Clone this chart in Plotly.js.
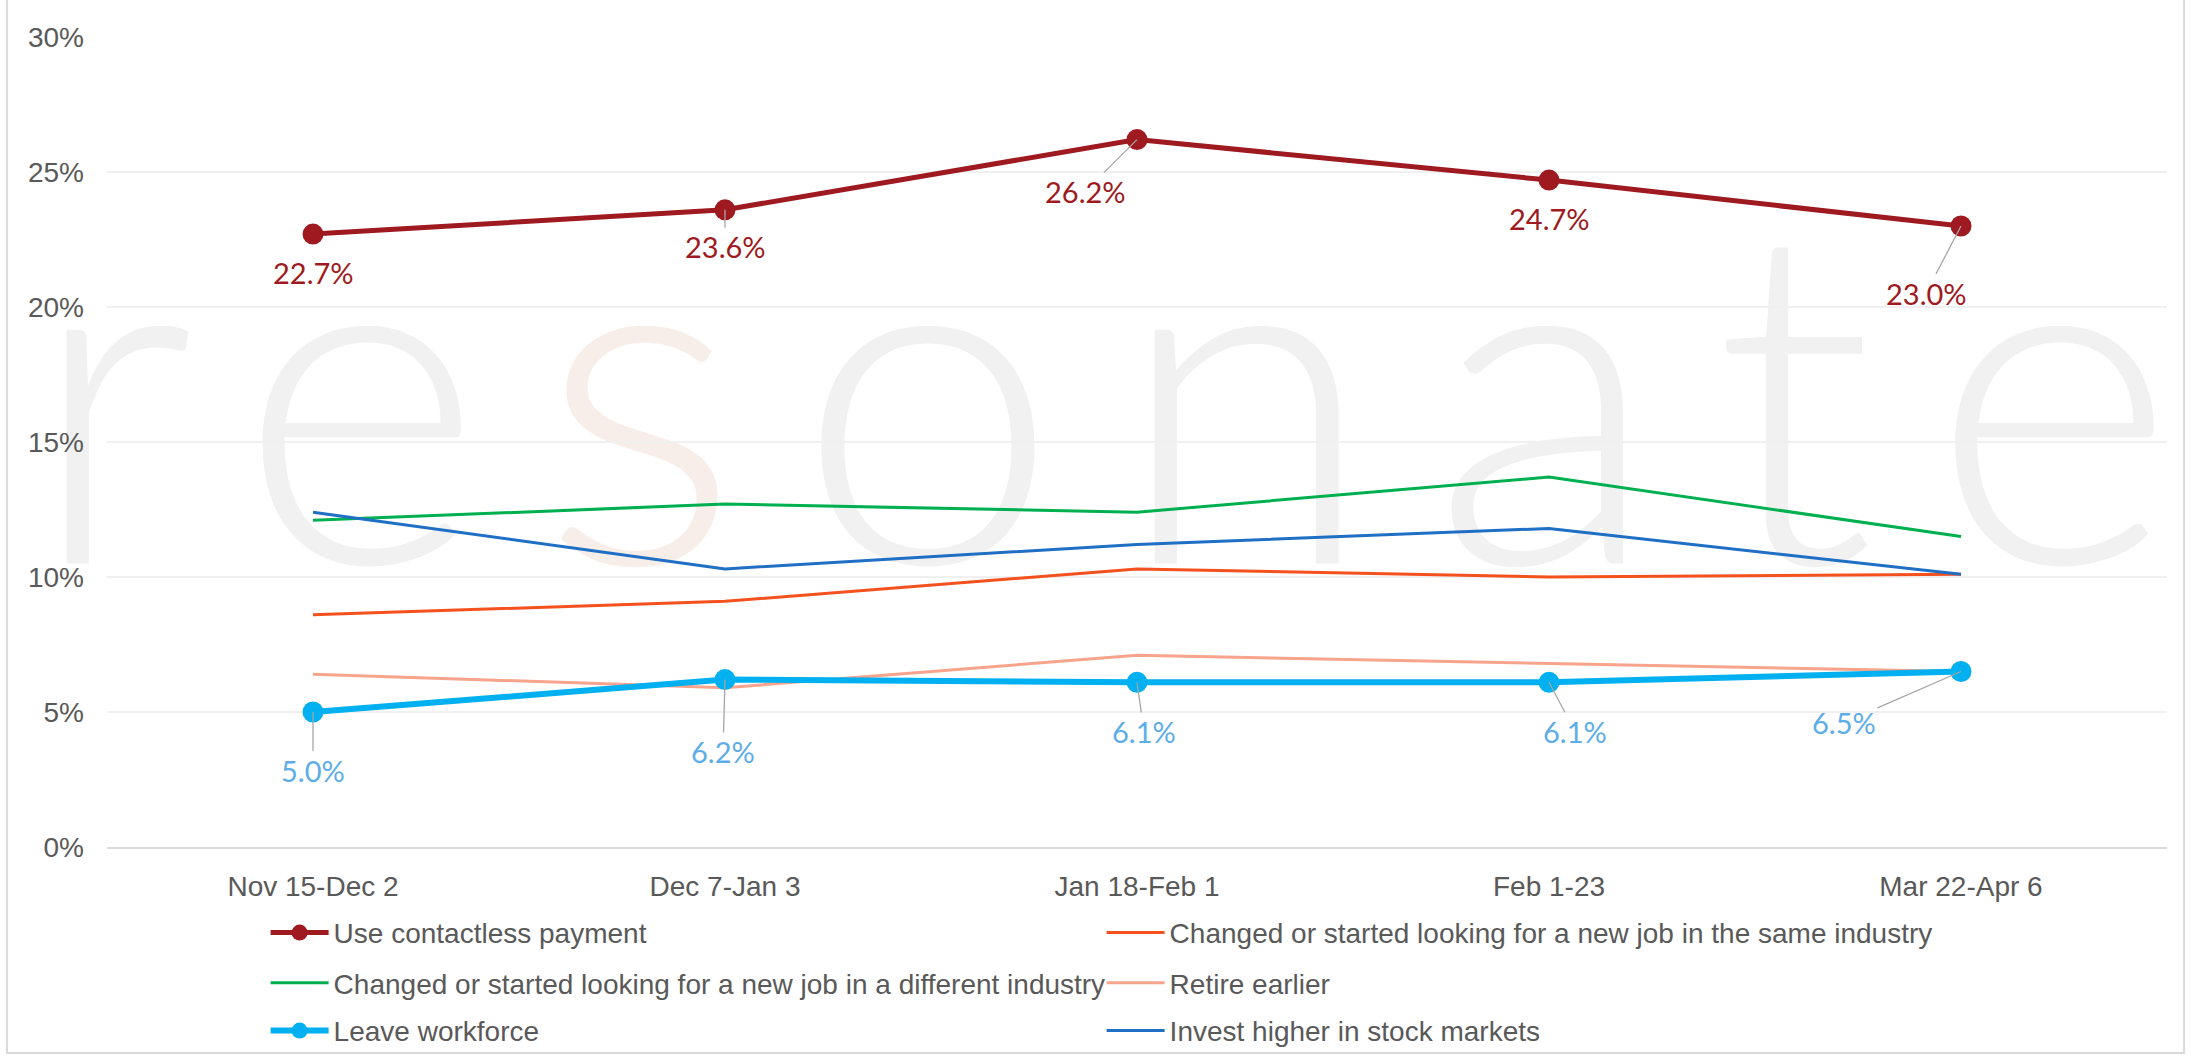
<!DOCTYPE html>
<html>
<head>
<meta charset="utf-8">
<script src="https://cdn.plot.ly/plotly-3.0.1.min.js"></script>
<style>
html,body{margin:0;padding:0;background:#ffffff;}
#chart{width:2191px;height:1060px;}
</style>
</head>
<body>
<div id="chart"></div>
<script>
// ---- data ----
const periods = ['Nov 15-Dec 2', 'Dec 7-Jan 3', 'Jan 18-Feb 1', 'Feb 1-23', 'Mar 22-Apr 6'];
const contactless = [22.7, 23.6, 26.2, 24.7, 23.0];
const sameIndustry = [8.6, 9.1, 10.3, 10.0, 10.1];
const diffIndustry = [12.1, 12.7, 12.4, 13.7, 11.5];
const retireEarlier = [6.4, 5.9, 7.1, 6.8, 6.5];
const leaveWorkforce = [5.0, 6.2, 6.1, 6.1, 6.5];
const investStocks = [12.4, 10.3, 11.2, 11.8, 10.1];
const seriesNames = [
  'Use contactless payment',
  'Changed or started looking for a new job in the same industry',
  'Changed or started looking for a new job in a different industry',
  'Retire earlier',
  'Leave workforce',
  'Invest higher in stock markets'
];
const yTicks = [0, 5, 10, 15, 20, 25, 30];
const yTickLabels = ['0%', '5%', '10%', '15%', '20%', '25%', '30%'];
const watermarkText = 'resonate';

// ---- styles ----
const C = {
  contactless: '#9E1A20',
  same: '#F4511E',
  diff: '#00B050',
  retire: '#F8A48C',
  leave: '#00B0F0',
  invest: '#1F6FC5',
  leaveLabel: '#5DADE8',
  text: '#595959'
};
const tickFont = {family: '"Liberation Sans", Arial, sans-serif', size: 28, color: C.text};
const labelFamily = 'Lato, "Open Sans", sans-serif';

function lineTrace(y, name, color, width, legendId, withMarkers) {
  const t = {
    x: periods, y: y, name: name, type: 'scatter',
    mode: withMarkers ? 'lines+markers' : 'lines',
    line: {color: color, width: width},
    legend: legendId, hoverinfo: 'skip'
  };
  if (withMarkers) t.marker = {color: color, size: 21};
  return t;
}

const data = [
  lineTrace(contactless, seriesNames[0], C.contactless, 5, 'legend', true),
  lineTrace(sameIndustry, seriesNames[1], C.same, 3, 'legend', false),
  lineTrace(diffIndustry, seriesNames[2], C.diff, 3, 'legend2', false),
  lineTrace(retireEarlier, seriesNames[3], C.retire, 3, 'legend2', false),
  lineTrace(leaveWorkforce, seriesNames[4], C.leave, 6, 'legend3', true),
  lineTrace(investStocks, seriesNames[5], C.invest, 3, 'legend3', false)
];

// label placement (pixel offsets of label from its point; leader line on/off)
const contactlessLabelPos = [[0, 38, false], [0, 37, true], [-52, 52, true], [0, 38, false], [-35, 67, true]];
const leaveLabelPos = [[0, 58, true], [-2, 72, true], [7, 49, true], [26, 49, true], [-117, 51, true]];

function makeLabels(values, pos, color) {
  return values.map((v, i) => ({
    x: periods[i], y: v, xref: 'x', yref: 'y',
    text: v.toFixed(1) + '%',
    showarrow: true, arrowhead: 0, standoff: 0, startstandoff: 0,
    arrowwidth: 1.3,
    arrowcolor: pos[i][2] ? '#A6A6A6' : 'rgba(0,0,0,0)',
    ax: pos[i][0], ay: pos[i][1],
    font: {family: labelFamily, size: 29, color: color}
  }));
}

const annotations = [].concat(
  makeLabels(contactless, contactlessLabelPos, C.contactless),
  makeLabels(leaveWorkforce, leaveLabelPos, C.leaveLabel)
);

const legendBase = {
  orientation: 'h', font: {family: '"Liberation Sans", Arial, sans-serif', size: 28, color: C.text},
  itemwidth: 58, entrywidth: 763, entrywidthmode: 'pixels',
  bgcolor: 'rgba(0,0,0,0)', borderwidth: 0,
  x: 0.077, xanchor: 'left', yanchor: 'middle'
};

const layout = {
  width: 2191, height: 1060,
  margin: {l: 107, r: 24, t: 37, b: 213, pad: 0, autoexpand: false},
  paper_bgcolor: '#ffffff', plot_bgcolor: 'rgba(0,0,0,0)',
  showlegend: true,
  legend: Object.assign({}, legendBase, {y: -0.106}),
  legend2: Object.assign({}, legendBase, {y: -0.168}),
  legend3: Object.assign({}, legendBase, {y: -0.227}),
  xaxis: {
    type: 'category', categoryorder: 'array', categoryarray: periods,
    range: [-0.5, 4.5], showgrid: false, zeroline: false,
    showline: true, linecolor: '#D9D9D9', linewidth: 2,
    ticks: '', tickfont: tickFont, ticklabelstandoff: 13, fixedrange: true
  },
  yaxis: {
    range: [0, 30], tickvals: yTicks, ticktext: yTickLabels,
    showgrid: true, gridcolor: '#F0F0F0', gridwidth: 2,
    zeroline: false, showline: false, ticks: '',
    tickfont: tickFont, ticklabelstandoff: 22, fixedrange: true
  },
  annotations: annotations,
  shapes: [
    {
      type: 'rect', xref: 'paper', yref: 'paper', layer: 'below',
      x0: -0.04, x1: 1.004, y0: 0.2, y1: 0.8,
      line: {width: 0}, fillcolor: 'rgba(0,0,0,0)',
      label: {
        text: 're<span style="color:#F8EEE9">s</span>onate',
        textposition: 'middle center', padding: 0,
        font: {family: labelFamily, size: 470, color: '#F1F1F1', weight: 300}
      }
    },
    {
      type: 'rect', xref: 'paper', yref: 'paper', layer: 'above',
      x0: -0.0485, x1: 1.0083, y0: -0.2543, y1: 1.0494,
      line: {color: '#D9D9D9', width: 2}, fillcolor: 'rgba(0,0,0,0)'
    }
  ],
  hovermode: false
};

Plotly.newPlot('chart', data, layout, {displayModeBar: false, staticPlot: true}).then(gd => {
  // place the faint "resonate" watermark: baseline near the 10.4% level, spread out letters
  const texts = gd.querySelectorAll('text');
  texts.forEach(t => {
    if (t.textContent === watermarkText) {
      const spacing = 57;
      t.style.letterSpacing = spacing + 'px';
      const fs = gd._fullLayout._size;
      const targetBaseline = fs.t + fs.h * (1 - 10.5 / 30);
      const yb = parseFloat(t.getAttribute('y'));
      const bb = t.getBBox();
      const targetCenterX = fs.l + fs.w * 0.483;
      const dx = targetCenterX - (bb.x + bb.width / 2 - spacing / 2);
      t.setAttribute('transform', 'translate(' + dx + ',' + (targetBaseline - yb) + ')');
    }
  });
});
</script>
</body>
</html>
